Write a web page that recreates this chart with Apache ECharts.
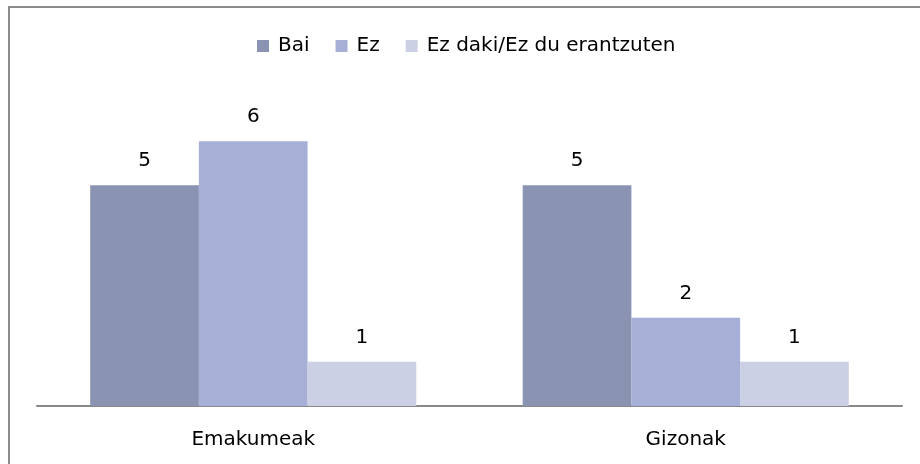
<!DOCTYPE html>
<html>
<head>
<meta charset="utf-8">
<script src="https://cdn.jsdelivr.net/npm/echarts@6/dist/echarts.min.js"></script>
<style>
  html, body { margin: 0; padding: 0; background: #fff; overflow: hidden; }
  #frame {
    position: absolute; left: 8px; top: 6px;
    width: 960px; height: 520px;
    border: 2px solid #8c8c8c; box-sizing: border-box;
  }
  #chart { position: absolute; left: 0; top: 0; width: 920px; height: 464px; }
</style>
</head>
<body>
<div id="frame"></div>
<div id="chart"></div>
<script>
const categories = ['Emakumeak', 'Gizonak']
const seriesNames = ['Bai', 'Ez', 'Ez daki/Ez du erantzuten']
const bai = [5, 5]
const ez = [6, 2]
const ezDaki = [1, 1]
const colors = ['#8a93b1', '#a6b0d6', '#cbd0e5']

const font = '"DejaVu Sans", sans-serif'
const myChart = echarts.init(document.getElementById('chart'))

const valueSets = [bai, ez, ezDaki]
const option = {
  animation: false,
  textStyle: { fontFamily: font, color: '#000' },
  legend: {
    top: 31,
    left: 252,
    itemWidth: 12,
    itemHeight: 12,
    itemGap: 26,
    icon: 'rect',
    textStyle: { fontSize: 20, color: '#000', fontFamily: font, padding: [0, 0, 0, 4] },
    data: seriesNames
  },
  grid: { left: 37, right: 18, top: 97, bottom: 58 },
  xAxis: {
    type: 'category',
    data: categories,
    axisLine: { lineStyle: { color: '#888', width: 2 } },
    axisTick: { show: false },
    axisLabel: { fontSize: 20, color: '#000', margin: 24, fontFamily: font }
  },
  yAxis: {
    type: 'value',
    min: 0,
    max: 7,
    show: false,
    splitLine: { show: false }
  },
  series: seriesNames.map((name, i) => ({
    name: name,
    type: 'bar',
    data: valueSets[i],
    barGap: '0%',
    barCategoryGap: '24.6%',
    itemStyle: { color: colors[i] },
    label: {
      show: true,
      position: 'top',
      distance: 14,
      fontSize: 20,
      color: '#000',
      fontFamily: font
    }
  }))
}
myChart.setOption(option)
</script>
</body>
</html>
